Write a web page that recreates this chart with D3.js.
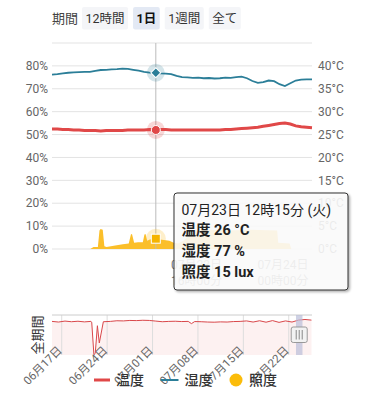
<!DOCTYPE html>
<html lang="ja">
<head>
    <meta charset="utf-8">
    <title>温湿度</title>
    <script src="https://d3js.org/d3.v7.min.js" charset="utf-8"></script>
    <style type="text/css">
        body {
            margin: 0;
            background: #fff;
            font-family: Roboto, 'Noto Sans CJK JP', sans-serif;
        }
        svg text { font-family: Roboto, 'Noto Sans CJK JP', sans-serif; }
    </style>
</head>
<body>
    <script type="text/javascript">
        // data (1日表示)
        var times = ["07-23 02:40", "07-23 03:10", "07-23 03:40", "07-23 04:10", "07-23 04:40", "07-23 05:10",
            "07-23 05:40", "07-23 06:10", "07-23 06:40", "07-23 07:10", "07-23 07:40", "07-23 08:10",
            "07-23 08:40", "07-23 09:10", "07-23 09:40", "07-23 10:10", "07-23 10:40", "07-23 11:10",
            "07-23 11:40", "07-23 12:10", "07-23 12:40", "07-23 13:10", "07-23 13:40", "07-23 14:10",
            "07-23 14:40", "07-23 15:10", "07-23 15:40", "07-23 16:10", "07-23 16:40", "07-23 17:10",
            "07-23 17:40", "07-23 18:10", "07-23 18:40", "07-23 19:10", "07-23 19:40", "07-23 20:10",
            "07-23 20:40", "07-23 21:10", "07-23 21:40", "07-23 22:10", "07-23 22:40", "07-23 23:10",
            "07-23 23:40", "07-24 00:10", "07-24 00:40", "07-24 01:10", "07-24 01:40", "07-24 02:10",
            "07-24 02:40"];
        var temps = [26.2, 26.2, 26.1, 26.1, 26.0, 26.0, 25.9, 25.9, 25.9, 25.8, 25.9, 25.9, 25.9,
            25.9, 26.0, 26.0, 26.0, 26.0, 26.1, 26.0, 26.1, 26.1, 26.0, 26.0, 26.0, 26.0, 26.0, 26.0,
            26.0, 26.0, 26.0, 26.0, 26.1, 26.1, 26.2, 26.3, 26.4, 26.5, 26.6, 26.8, 27.0, 27.2, 27.4,
            27.5, 27.3, 26.9, 26.7, 26.6, 26.5];
        var hums = [76.2, 76.4, 76.7, 77.0, 77.2, 77.3, 77.4, 77.4, 77.8, 78.2, 78.3, 78.5, 78.6,
            78.8, 78.7, 78.3, 77.9, 77.4, 77.1, 76.9, 76.7, 76.6, 76.4, 75.6, 75.1, 75.0, 74.8, 74.9,
            74.6, 74.7, 74.5, 74.6, 74.9, 74.8, 75.1, 75.3, 74.6, 73.4, 72.6, 72.9, 73.6, 73.3, 72.0,
            71.2, 72.4, 73.6, 74.0, 74.1, 74.1];
        var luxTimes = ["07-23 02:40", "07-23 06:12", "07-23 06:30", "07-23 06:54", "07-23 07:03",
            "07-23 07:09", "07-23 07:21", "07-23 07:30", "07-23 07:42", "07-23 08:30", "07-23 09:12",
            "07-23 09:45", "07-23 09:57", "07-23 10:03", "07-23 10:15", "07-23 10:36", "07-23 11:03",
            "07-23 11:12", "07-23 11:18", "07-23 11:27", "07-23 11:42", "07-23 12:00", "07-23 12:15",
            "07-23 12:36", "07-23 13:00", "07-23 13:30", "07-23 13:54", "07-23 14:18", "07-23 14:48",
            "07-23 15:24", "07-23 15:54", "07-23 17:00", "07-23 19:00", "07-23 21:00", "07-23 23:27",
            "07-23 23:33", "07-24 00:36", "07-24 00:45", "07-24 02:40"];
        var luxValues = [0, 0, 3, 3, 27, 29, 28, 4, 3, 5, 7, 8, 21, 22, 9, 10, 10, 21, 22, 12, 14, 15,
            15, 14, 13, 12, 9, 8, 12, 20, 27, 28, 27, 28, 27, 9, 8, 0, 0];
        var xTicks = ["07-23 16:00", "07-24 00:00"];
        var pctTicks = [0, 10, 20, 30, 40, 50, 60, 70, 80];
        var tempTicks = [0, 5, 10, 15, 20, 25, 30, 35, 40];

        // cursor / tooltip
        var cursorTime = "07-23 12:15";
        var cursorTemp = 26, cursorHum = 77, cursorLux = 15;

        // 全期間 (navigator)
        var navTimes = ["06-15 12:00", "06-16 12:00", "06-17 12:00", "06-18 12:00", "06-19 12:00",
            "06-20 12:00", "06-21 12:00", "06-21 15:00", "06-21 23:00", "06-22 04:00", "06-22 12:00",
            "06-22 19:00", "06-23 10:00", "06-24 12:00", "06-25 12:00", "06-26 12:00", "06-27 12:00",
            "06-28 12:00", "06-29 12:00", "06-30 12:00", "07-01 12:00", "07-02 12:00", "07-03 12:00",
            "07-04 12:00", "07-05 12:00", "07-06 12:00", "07-07 00:00", "07-07 12:00", "07-08 12:00",
            "07-09 12:00", "07-10 12:00", "07-11 12:00", "07-12 12:00", "07-13 12:00", "07-14 12:00",
            "07-15 12:00", "07-16 12:00", "07-17 12:00", "07-18 12:00", "07-19 12:00", "07-20 12:00",
            "07-21 12:00", "07-22 12:00", "07-23 12:00", "07-24 12:00", "07-25 12:00"];
        var navTemps = [26.0, 25.6, 26.2, 25.8, 26.1, 25.7, 26.0, 25.5, 5.2, 6.0, 23.3, 12.5, 25.8,
            26.0, 26.4, 26.3, 26.6, 26.5, 26.7, 26.6, 26.2, 25.8, 26.0, 26.1, 25.9, 26.0, 24.6, 25.9,
            25.8, 25.6, 25.5, 25.7, 25.6, 25.9, 26.0, 26.3, 25.6, 26.4, 25.5, 26.5, 25.4, 26.3, 25.6,
            26.8, 27.2, 26.8];
        var navTicks = ["06-17 00:00", "06-24 00:00", "07-01 00:00", "07-08 00:00", "07-15 00:00", "07-22 00:00"];

        var periods = ["12時間", "1日", "1週間", "全て"];
        var selectedPeriod = "1日";

        var legendItems = [
            { name: "温度", type: "line", color: "#e04848" },
            { name: "湿度", type: "line", color: "#2b7e98" },
            { name: "照度", type: "dot", color: "#fbbc0a" }
        ];

        var parse = function (s) { return d3.timeParse("%Y-%m-%d %H:%M")("2019-" + s); };
        var fmtDay = d3.timeFormat("%m月%d日");
        var fmtHour = d3.timeFormat("%H時%M分");
        var days = ["日", "月", "火", "水", "木", "金", "土"];

        var width = 369, height = 400;
        var plotLeft = 52, plotRight = 312, plotTop = 43, plotBottom = 249;
        var tempColor = "#e04848", humColor = "#2b7e98", luxColor = "#fbbf2a";

        var svg = d3.select("body")
                    .append("svg")
                    .attr("width", width)
                    .attr("height", height);

        // period buttons
        svg.append("text").attr("x", 52).attr("y", 22.5)
            .attr("font-size", "13px").attr("fill", "#444").text("期間");
        var bx = 82;
        periods.forEach(function (p) {
            var t = svg.append("text").attr("y", 22.5).attr("font-size", "12.5px")
                .attr("fill", p == selectedPeriod ? "#111" : "#333")
                .attr("font-weight", p == selectedPeriod ? "bold" : "normal")
                .text(p);
            var w = t.node().getComputedTextLength();
            svg.insert("rect", "text").attr("x", bx).attr("y", 7).attr("width", w + 7).attr("height", 22.5)
                .attr("rx", 2).attr("fill", p == selectedPeriod ? "#e3e9f4" : "#f4f5f8");
            t.attr("x", bx + 3.5);
            bx += w + 7 + 5;
        });

        var x = d3.scaleTime()
            .domain([parse(times[0]), parse(times[times.length - 1])])
            .range([plotLeft, plotRight]);
        var yPct = d3.scaleLinear().domain([0, 90]).range([plotBottom, plotTop]);
        var yTemp = d3.scaleLinear().domain([0, 45]).range([plotBottom, plotTop]);
        var yLux = d3.scaleLinear().domain([0, 300]).range([plotBottom, plotTop]);

        // grid
        svg.append("g").selectAll("line")
            .data(pctTicks.concat([90]))
            .enter().append("line")
            .attr("x1", plotLeft).attr("x2", plotRight)
            .attr("y1", function (d) { return yPct(d); })
            .attr("y2", function (d) { return yPct(d); })
            .attr("stroke", "#e3e3e3").attr("stroke-width", 1);

        svg.append("g").selectAll("text")
            .data(pctTicks)
            .enter().append("text")
            .attr("x", 48).attr("y", function (d) { return yPct(d); })
            .attr("dy", "0.35em").attr("text-anchor", "end")
            .attr("font-size", "12px").attr("fill", "#666")
            .text(function (d) { return d + "%"; });

        svg.append("g").selectAll("text")
            .data(tempTicks)
            .enter().append("text")
            .attr("x", 318).attr("y", function (d) { return yTemp(d); })
            .attr("dy", "0.35em")
            .attr("font-size", "12px").attr("fill", "#666")
            .text(function (d) { return d + "°C"; });

        // lux area
        var luxData = luxTimes.map(function (t, i) { return { t: parse(t), v: luxValues[i] }; });
        svg.append("path")
            .datum(luxData)
            .attr("fill", luxColor)
            .attr("d", d3.area()
                .x(function (d) { return x(d.t); })
                .y0(plotBottom)
                .y1(function (d) { return yLux(d.v); }));

        // x labels
        var xl = svg.append("g").selectAll("text")
            .data(xTicks.map(parse))
            .enter().append("text")
            .attr("text-anchor", "middle")
            .attr("font-size", "12px").attr("fill", "#777");
        xl.append("tspan").attr("x", function (d) { return x(d); }).attr("y", 269).text(function (d) { return fmtDay(d); });
        xl.append("tspan").attr("x", function (d) { return x(d); }).attr("y", 285).text(function (d) { return fmtHour(d); });

        // lines
        var humData = times.map(function (t, i) { return { t: parse(t), v: hums[i] }; });
        var tempData = times.map(function (t, i) { return { t: parse(t), v: temps[i] }; });

        svg.append("path").datum(humData)
            .attr("fill", "none").attr("stroke", humColor).attr("stroke-width", 1.8)
            .attr("d", d3.line().x(function (d) { return x(d.t); }).y(function (d) { return yPct(d.v); }));

        svg.append("path").datum(tempData)
            .attr("fill", "none").attr("stroke", tempColor).attr("stroke-width", 3)
            .attr("d", d3.line().x(function (d) { return x(d.t); }).y(function (d) { return yTemp(d.v); }));

        // cursor
        var cx = x(parse(cursorTime));
        svg.append("line").attr("x1", cx).attr("x2", cx).attr("y1", plotTop).attr("y2", plotBottom)
            .attr("stroke", "#bbb").attr("stroke-width", 1);

        svg.append("circle").attr("cx", cx).attr("cy", yPct(cursorHum)).attr("r", 9)
            .attr("fill", humColor).attr("opacity", 0.2);
        svg.append("rect").attr("x", -3.5).attr("y", -3.5).attr("width", 7).attr("height", 7)
            .attr("transform", "translate(" + cx + "," + yPct(cursorHum) + ") rotate(45)")
            .attr("fill", humColor).attr("stroke", "#fff").attr("stroke-width", 1);

        svg.append("circle").attr("cx", cx).attr("cy", yTemp(cursorTemp)).attr("r", 9)
            .attr("fill", tempColor).attr("opacity", 0.22);
        svg.append("circle").attr("cx", cx).attr("cy", yTemp(cursorTemp)).attr("r", 4.5)
            .attr("fill", tempColor).attr("stroke", "#fff").attr("stroke-width", 1);

        svg.append("circle").attr("cx", cx).attr("cy", yLux(cursorLux)).attr("r", 10)
            .attr("fill", luxColor).attr("opacity", 0.25);
        svg.append("rect").attr("x", cx - 4.5).attr("y", yLux(cursorLux) - 4.5).attr("width", 9).attr("height", 9)
            .attr("fill", "#f5b400").attr("stroke", "#fff").attr("stroke-width", 1);

        // tooltip
        var defs = svg.append("defs");
        var f = defs.append("filter").attr("id", "shadow").attr("x", "-10%").attr("y", "-10%")
            .attr("width", "130%").attr("height", "130%");
        f.append("feDropShadow").attr("dx", 1.5).attr("dy", 1.5).attr("stdDeviation", 1.2)
            .attr("flood-color", "#000").attr("flood-opacity", 0.35);

        var tip = svg.append("g").attr("transform", "translate(174,193)");
        tip.append("rect").attr("width", 174).attr("height", 97).attr("rx", 3)
            .attr("fill", "rgba(255,255,255,0.86)").attr("stroke", "#333").attr("stroke-width", 1)
            .attr("filter", "url(#shadow)");
        var ct = parse(cursorTime);
        tip.append("text").attr("x", 7.5).attr("y", 22).attr("font-size", "14px").attr("fill", "#222")
            .text(fmtDay(ct) + " " + fmtHour(ct) + " (" + days[ct.getDay()] + ")");
        var tipLines = ["温度 " + cursorTemp + " °C", "湿度 " + cursorHum + " %", "照度 " + cursorLux + " lux"];
        tip.selectAll("text.v").data(tipLines).enter().append("text").attr("class", "v")
            .attr("x", 7.5).attr("y", function (d, i) { return 42 + i * 20.8; })
            .attr("font-size", "14.5px").attr("font-weight", "bold").attr("fill", "#222")
            .text(function (d) { return d; });

        // navigator
        var nTop = 315, nBottom = 355;
        var nx = d3.scaleTime()
            .domain([parse("06-15 12:00"), parse("07-25 14:00")])
            .range([plotLeft, plotRight]);
        var ny = d3.scaleLinear().domain([5, 30]).range([nBottom, nTop]);
        var navData = navTimes.map(function (t, i) { return { t: parse(t), v: navTemps[i] }; });

        svg.append("path").datum(navData)
            .attr("fill", "#fdeeee").attr("opacity", 0.85)
            .attr("d", d3.area().x(function (d) { return nx(d.t); }).y0(nBottom).y1(function (d) { return ny(d.v); }));

        svg.append("g").selectAll("line")
            .data(navTicks.map(parse))
            .enter().append("line")
            .attr("x1", function (d) { return nx(d); }).attr("x2", function (d) { return nx(d); })
            .attr("y1", nTop).attr("y2", nBottom)
            .attr("stroke", "#ddd");

        svg.append("line").attr("x1", plotLeft).attr("x2", plotRight).attr("y1", nTop).attr("y2", nTop)
            .attr("stroke", "#ccc");

        svg.append("path").datum(navData)
            .attr("fill", "none").attr("stroke", "#d9474a").attr("stroke-width", 1)
            .attr("d", d3.line().x(function (d) { return nx(d.t); }).y(function (d) { return ny(d.v); }));

        // selection band + handle
        var s0 = nx(parse(times[0])), s1 = nx(parse(times[times.length - 1]));
        svg.append("rect").attr("x", s0).attr("y", nTop).attr("width", s1 - s0).attr("height", nBottom - nTop)
            .attr("fill", "#b9bed9").attr("opacity", 0.7);
        var hc = (s0 + s1) / 2;
        svg.append("rect").attr("x", hc - 8).attr("y", 327).attr("width", 16).attr("height", 15.5).attr("rx", 2)
            .attr("fill", "#f2f2f2").attr("stroke", "#999");
        [-3, 0, 3].forEach(function (o) {
            svg.append("line").attr("x1", hc + o).attr("x2", hc + o).attr("y1", 330).attr("y2", 339.5)
                .attr("stroke", "#888");
        });

        svg.append("text").attr("transform", "translate(42,335) rotate(-90)")
            .attr("text-anchor", "middle").attr("font-size", "13px").attr("fill", "#333")
            .text("全期間");

        svg.append("g").selectAll("text")
            .data(navTicks.map(parse))
            .enter().append("text")
            .attr("transform", function (d) { return "translate(" + (nx(d) + 1) + ",351) rotate(-45)"; })
            .attr("text-anchor", "end")
            .attr("font-size", "11.5px").attr("fill", "#666")
            .text(function (d) { return fmtDay(d); });

        // legend
        var lx = 94;
        legendItems.forEach(function (it) {
            var sw;
            if (it.type == "line") {
                sw = it.name == "温度" ? 16 : 18;
                svg.append("line").attr("x1", lx).attr("x2", lx + sw).attr("y1", 380).attr("y2", 380)
                    .attr("stroke", it.color).attr("stroke-width", it.name == "温度" ? 3 : 2);
            } else {
                sw = 14;
                svg.append("circle").attr("cx", lx + 7).attr("cy", 380).attr("r", 6.5).attr("fill", it.color);
            }
            var t = svg.append("text").attr("x", lx + sw + 6).attr("y", 385).attr("font-size", "14px")
                .attr("font-weight", 500).attr("fill", "#333").text(it.name);
            lx += sw + 6 + t.node().getComputedTextLength() + 16.5;
        });
    </script>
</body>
</html>
